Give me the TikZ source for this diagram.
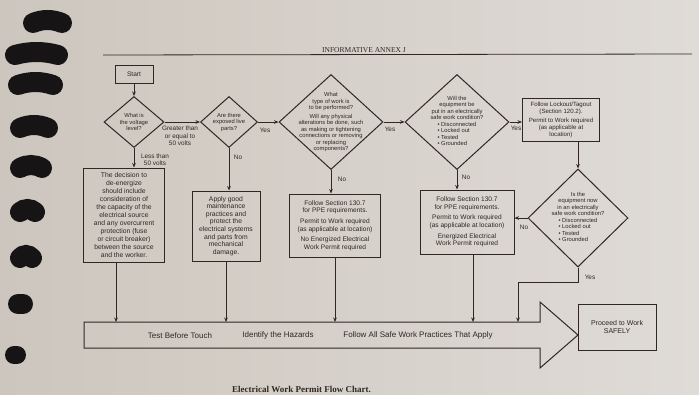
\documentclass[tikz,border=0pt]{standalone}
\usepackage{fontspec}
\setmainfont{Liberation Sans}
\newfontfamily\serifhead{Liberation Serif}
\usetikzlibrary{shapes.geometric,arrows.meta}
\definecolor{ink}{HTML}{2E2724}
\definecolor{paperL}{HTML}{CDC6BE}
\definecolor{paperR}{HTML}{DFDBD6}
\definecolor{ringc}{HTML}{161414}
\begin{document}
\begin{tikzpicture}[x=1pt,y=-1pt,
  line/.style={draw=ink, line width=1pt},
  arr/.style={line, -{Stealth[length=4.5pt,width=3.6pt]}},
  boxn/.style={draw=ink, line width=1pt, rectangle, inner sep=0pt, align=center, text=ink},
  dia/.style={draw=ink, line width=1pt, diamond, inner sep=0pt},
  dtxt/.style={align=center, text=ink, inner sep=0pt, font=\fontsize{5.8}{6.5}\selectfont},
  btxt/.style={font=\fontsize{6.6}{7.6}\selectfont},
  lbl/.style={align=center, text=ink, inner sep=0pt, font=\fontsize{6.4}{7.4}\selectfont},
  atxt/.style={text=ink, inner sep=0pt, font=\fontsize{8}{9}\selectfont},
  ring/.style={draw=ringc, line width=20pt, line cap=round},
]
\useasboundingbox (0,0) rectangle (699,394);
\shade[left color=paperL, right color=paperR] (0,0) rectangle (699,394);

% spiral binding
\foreach \xa/\xb/\yc in {33/62/21, 15/58/53, 18/53/83, 20/48/126, 20/42/166, 20/35/210, 20/32/256}{
  \draw[ring] (\xa,\yc+2) .. controls ({\xa+0.33*(\xb-\xa)},\yc-2) and ({\xa+0.67*(\xb-\xa)},\yc-2) .. (\xb,\yc+2);
}
\draw[ring] (18,304) -- (23,304);
\draw[ring, line width=18pt] (14,355) -- (17,355);

% header
\node[font=\serifhead\fontsize{7.5}{9}\selectfont, text=ink, inner sep=0pt, anchor=base] (hdr) at (364,52) {INFORMATIVE ANNEX J};
\coordinate (hl) at (103,55);
\coordinate (hr) at (692,54);
\draw[line, line width=0.8pt] (hl) -- (hr);

% nodes
\node[boxn, btxt, minimum width=38, minimum height=18] (start) at (134,74) {Start};

\node[dia, minimum width=60, minimum height=51] (d1) at (134,122) {};
\node[dtxt] (d1t) at (d1) {What is\\the voltage\\level?};

\node[dia, minimum width=57, minimum height=51] (d2) at (229,122) {};
\node[dtxt] (d2t) at (d2) {Are there\\exposed live\\parts?};

\node[dia, minimum width=104, minimum height=95] (d3) at (331,122) {};
\node[dtxt] (d3t) at (d3) {What\\type of work is\\to be performed?\\[2pt]Will any physical\\alterations be done, such\\as making or tightening\\connections or removing\\or replacing\\components?};

\node[dia, minimum width=104, minimum height=95] (d4) at (457,122) {};
\node[dtxt] (d4t) at (d4) {Will the\\equipment be\\put in an electrically\\safe work condition?\\[1pt]\begin{tabular}{@{}l@{}}\textbullet\ Disconnected\\\textbullet\ Locked out\\\textbullet\ Tested\\\textbullet\ Grounded\end{tabular}};

\node[boxn, font=\fontsize{6.1}{6.9}\selectfont, minimum width=77, minimum height=43] (loto) at (561,120) {Follow Lockout/Tagout\\(Section 120.2).\\[2pt]Permit to Work required\\(as applicable at\\location)};

\node[dia, minimum width=100, minimum height=98] (d5) at (578,218) {};
\node[dtxt] (d5t) at (d5) {Is the\\equipment now\\in an electrically\\safe work condition?\\[1pt]\begin{tabular}{@{}l@{}}\textbullet\ Disconnected\\\textbullet\ Locked out\\\textbullet\ Tested\\\textbullet\ Grounded\end{tabular}};

\node[boxn, font=\fontsize{6.8}{8}\selectfont, minimum width=81, minimum height=94] (b1) at (124,215) {The decision to\\de-energize\\should include\\consideration of\\the capacity of the\\electrical source\\and any overcurrent\\protection (fuse\\or circuit breaker)\\between the source\\and the worker.};

\node[boxn, font=\fontsize{6.8}{7.6}\selectfont, minimum width=68, minimum height=70] (b2) at (226,226) {Apply good\\maintenance\\practices and\\protect the\\electrical systems\\and parts from\\mechanical\\damage.};

\node[boxn, btxt, minimum width=91, minimum height=63] (b3) at (335,225.5) {Follow Section 130.7\\for PPE requirements.\\[3pt]Permit to Work required\\(as applicable at location)\\[3pt]No Energized Electrical\\Work Permit required};

\node[boxn, btxt, minimum width=94, minimum height=64] (b4) at (467,222) {Follow Section 130.7\\for PPE requirements.\\[3pt]Permit to Work required\\(as applicable at location)\\[3pt]Energized Electrical\\Work Permit required};

% big arrow
\coordinate (bt) at (0,322);
\draw[line] (84,322) -- (540,322) -- (540,302) -- (578,335) -- (540,368) -- (540,348) -- (84,348) -- cycle;
\node[atxt] (t1) at (180,336) {Test Before Touch};
\node[atxt] (t2) at (278,335.5) {Identify the Hazards};
\node[atxt] (t3) at (418,335) {Follow All Safe Work Practices That Apply};

\node[boxn, font=\fontsize{7}{8.4}\selectfont, minimum width=78, minimum height=46] (proc) at (617,327) {Proceed to Work\\SAFELY};

% connectors
\draw[arr] (start) -- (d1);
\draw[arr] (d1.east) -- (d2.west);
\draw[arr] (d2.east) -- (d3.west);
\draw[arr] (d3.east) -- (d4.west);
\draw[arr] (d4.east) -- (d4.east -| loto.west);
\draw[arr] (d1.south) -- (d1.south |- b1.north);
\draw[arr] (d2.south) -- (d2.south |- b2.north);
\draw[arr] (d3.south) -- (d3.south |- b3.north);
\draw[arr] (d4.south) -- (d4.south |- b4.north);
\draw[arr] (d5.north |- loto.south) -- (d5.north);
\draw[arr] (d5.west) -- (d5.west -| b4.east);
\coordinate (yesin) at (518,322);
\draw[arr] (d5.south) -- ++(0,15) -| (yesin);

\coordinate (b1o) at ([xshift=-8pt]b1.south);
\coordinate (b4o) at ([xshift=6pt]b4.south);
\draw[arr] (b1o) -- (b1o |- bt);
\draw[arr] (b2.south) -- (b2.south |- bt);
\draw[arr] (b3.south) -- (b3.south |- bt);
\draw[arr] (b4o) -- (b4o |- bt);

% labels
\node[lbl] (lg) at (180,136) {Greater than\\or equal to\\50 volts};
\node[lbl] (ll) at (155,160) {Less than\\50 volts};
\node[lbl] (ly1) at (265,130) {Yes};
\node[lbl] (ln1) at (238,157) {No};
\node[lbl] (ly2) at (390,129) {Yes};
\node[lbl] (ln2) at (342,179) {No};
\node[lbl] (ly3) at (516,128) {Yes};
\node[lbl] (ln3) at (466,177) {No};
\node[lbl] (ln4) at (524,227) {No};
\node[lbl] (ly4) at (590,277) {Yes};

% caption
\node[font=\serifhead\bfseries\fontsize{9}{10}\selectfont, text=ink, anchor=base west, inner sep=0pt] (cap) at (232,392) {Electrical Work Permit Flow Chart.};
\end{tikzpicture}
\end{document}
